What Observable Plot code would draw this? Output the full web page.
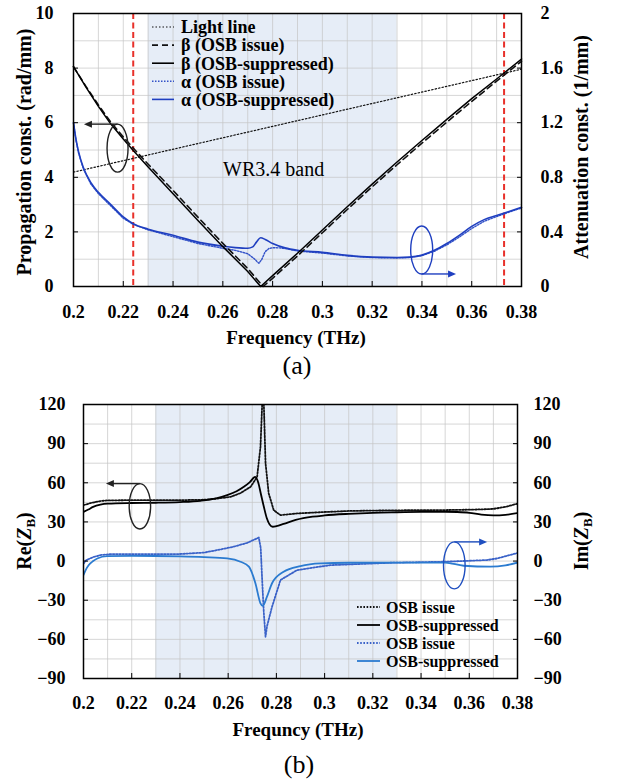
<!DOCTYPE html>
<html><head><meta charset="utf-8">
<script src="https://cdn.jsdelivr.net/npm/d3@7"></script>
<script src="https://cdn.jsdelivr.net/npm/@observablehq/plot@0.6"></script>
<style>
body{margin:0;background:#fff;}
#wrap{position:relative;width:617px;height:784px;overflow:hidden;font-family:"Liberation Serif","Times New Roman",serif;color:#000;}
.abs{position:absolute;white-space:nowrap;line-height:1;transform:translate(-50%,-50%);}
.b{font-weight:bold;}
.rot{transform:translate(-50%,-50%) rotate(-90deg);}
.pa,.pb{position:absolute;left:0;}
sub{font-size:13px;vertical-align:-4px;line-height:0;}
</style></head><body><div id="wrap"></div>
<script>
// ---------- shared ----------
const freqTicks = [0.2,0.22,0.24,0.26,0.28,0.3,0.32,0.34,0.36,0.38];
const gridFreq = [0.21,0.22,0.23,0.24,0.25,0.26,0.27,0.28,0.29,0.3,0.31,0.32,0.33,0.34,0.35,0.36,0.37];
const wrBand = [0.23, 0.33];

// ---------- panel (a) ----------
const propTicks = [0,2,4,6,8,10];
const attTicks = [0,0.4,0.8,1.2,1.6,2];
const gridProp = [1,2,3,4,5,6,7,8,9];
const cutoffFreqs = [0.224, 0.373];
const ATT_TO_PROP = 5; // 2 (1/mm) on right axis == 10 (rad/mm) on left axis

const lightF = [0.2, 0.38];
const lightV = [4.19, 7.96];

const betaSupF = [0.2,0.205,0.21,0.215,0.22,0.224,0.23,0.24,0.25,0.26,0.27,0.2752,0.28,0.29,0.30,0.31,0.32,0.33,0.34,0.35,0.36,0.37,0.373,0.38];
const betaSupV = [8.05,7.3,6.6,5.95,5.4,4.98,4.38,3.4,2.42,1.46,0.55,0,0.4,1.22,2.07,2.92,3.75,4.56,5.35,6.12,6.88,7.6,7.82,8.33];

const betaIssF = [0.2,0.205,0.21,0.215,0.22,0.224,0.23,0.24,0.25,0.26,0.27,0.2762,0.28,0.29,0.30,0.31,0.32,0.33,0.34,0.35,0.36,0.37,0.373,0.38];
const betaIssV = [8.05,7.33,6.65,6.02,5.48,5.07,4.48,3.52,2.54,1.58,0.66,0,0.3,1.12,1.97,2.82,3.65,4.46,5.25,6.02,6.78,7.52,7.74,8.25];

const alphaSupF = [0.2,0.201,0.202,0.204,0.207,0.21,0.215,0.22,0.224,0.23,0.24,0.25,0.26,0.265,0.27,0.272,0.2735,0.2752,0.277,0.28,0.285,0.29,0.3,0.31,0.32,0.33,0.335,0.34,0.345,0.35,0.355,0.36,0.365,0.37,0.375,0.38];
const alphaSupV = [1.2,1.08,0.99,0.87,0.76,0.69,0.6,0.51,0.46,0.42,0.375,0.325,0.295,0.285,0.28,0.29,0.325,0.357,0.345,0.315,0.283,0.265,0.25,0.228,0.215,0.212,0.215,0.23,0.265,0.315,0.375,0.44,0.49,0.52,0.55,0.58];

const alphaIssF = [0.2,0.201,0.202,0.204,0.207,0.21,0.215,0.22,0.224,0.23,0.24,0.25,0.26,0.265,0.27,0.2725,0.2745,0.2757,0.277,0.2785,0.28,0.283,0.286,0.29,0.3,0.31,0.32,0.33,0.335,0.34,0.345,0.35,0.355,0.36,0.365,0.37,0.375,0.38];
const alphaIssV = [1.2,1.07,0.98,0.86,0.75,0.68,0.59,0.5,0.455,0.415,0.365,0.315,0.28,0.265,0.24,0.205,0.17,0.2,0.255,0.278,0.284,0.283,0.275,0.26,0.245,0.224,0.212,0.209,0.212,0.226,0.258,0.305,0.362,0.425,0.478,0.512,0.545,0.575];

// ---------- panel (b) ----------
const zTicks = [-90,-60,-30,0,30,60,90,120];
const gridZ = [-75,-60,-45,-30,-15,0,15,30,45,60,75,90,105];

const reSupF = [0.2,0.202,0.204,0.207,0.21,0.22,0.23,0.24,0.2485,0.255,0.2596,0.2635,0.2665,0.269,0.2712,0.2725,0.2735,0.2748,0.276,0.2772,0.2785,0.28,0.283,0.288,0.295,0.3,0.31,0.32,0.33,0.34,0.35,0.355,0.36,0.365,0.37,0.375,0.38];
const reSupV = [37.7,39.5,41.5,43.2,44,44.5,44.7,45.2,46.2,48,50.5,53.5,56.9,60.5,64.5,60,52,41.6,33,28,26.3,26.8,28.5,31.5,34,35,36.2,37,37.4,37.7,37.8,37.6,37,35.6,35,35.4,36.8];

const reIssF = [0.2,0.203,0.207,0.21,0.22,0.24,0.25,0.255,0.261,0.265,0.2693,0.272,0.2734,0.2741,0.2744,0.2748,0.2755,0.2768,0.2789,0.2817,0.2886,0.3,0.31,0.32,0.33,0.34,0.35,0.36,0.365,0.37,0.375,0.38];
const reIssV = [42.8,44.5,46,46.5,46.7,46.7,47,47.8,49.2,52,56.9,64.5,87.5,120,160,120,75,52,39,35.2,36.5,37.6,38.4,38.7,38.9,39,39.1,39.4,39.6,40,41.5,44];

const imSupF = [0.2,0.201,0.2022,0.204,0.2057,0.2098,0.22,0.23,0.24,0.25,0.2596,0.2651,0.2686,0.2713,0.2734,0.2743,0.2761,0.2782,0.283,0.29,0.2983,0.31,0.33,0.35,0.3577,0.3688,0.375,0.38];
const imSupV = [-10.7,-6.5,-3,0,2,3.8,4,3.9,3.6,3,2,-0.5,-4.3,-17,-32.4,-34.4,-27.3,-17,-8.2,-3.8,-1.8,-1.3,-1.2,-1.2,-3.6,-4.3,-3.3,-1.2];

const imIssF = [0.2,0.2012,0.204,0.207,0.212,0.24,0.25,0.2554,0.2623,0.2679,0.2715,0.2727,0.2735,0.2741,0.2748,0.2755,0.2761,0.2782,0.2817,0.2886,0.3024,0.3273,0.35,0.3674,0.3715,0.38];
const imIssV = [-2,0.8,3,4.6,5.4,5.4,6.5,8.4,11,14,17,18.1,10,-14.5,-40,-58,-50,-35,-14.5,-6.9,-3.1,-1.3,-0.5,0.8,2,6.2];

// annotation anchors in data coordinates
const annA = [
  {cf:0.2179, cv:5.05, rx:10.5, ry:24, side:"top", tf:0.2044, color:"#222"},
  {cf:0.3401, cv:1.32, rx:11, ry:24, side:"bottom", tf:0.3539, color:"#1f3fc0"}
];
const annB = [
  {cf:0.2236, cv:41.6, rx:10.7, ry:22.7, side:"top", tf:0.2095, color:"#222"},
  {cf:0.354, cv:-3.7, rx:10.8, ry:23.5, side:"top", tf:0.3676, color:"#1f4fc0"}
];

// ---------- helpers ----------
const rows = (F, V) => F.map((f, i) => ({f, v: V[i]}));
const fmtF = d => String(+d.toFixed(2));
const style = {fontFamily:'"Liberation Serif","Times New Roman",serif', fontSize:"18px", fontWeight:"bold", color:"#000", overflow:"visible", background:"transparent"};
const BLUE_A = "#1f3fc0", BLUE_A_DOT = "#3352c8";
const BLUE_B = "#2b7bd0", BLUE_B_DOT = "#3a62c8";
const GRID = {stroke:"#c4c4c4", strokeOpacity:0.7, strokeWidth:1};

function annotate(plot, list) {
  const sx = plot.scale("x"), sy = plot.scale("y");
  const svg = d3.select(plot);
  for (const a of list) {
    const cx = sx.apply(a.cf), cy = sy.apply(a.cv);
    const g = svg.append("g").attr("fill","none").attr("stroke",a.color).attr("stroke-width",1.4);
    g.append("ellipse").attr("cx",cx).attr("cy",cy).attr("rx",a.rx).attr("ry",a.ry);
    const ay = a.side === "top" ? cy - a.ry : cy + a.ry;
    const x2 = sx.apply(a.tf);
    const dir = Math.sign(x2 - cx);
    g.append("line").attr("x1",cx).attr("y1",ay).attr("x2",x2 - dir*4).attr("y2",ay);
    g.append("path").attr("d",`M${x2},${ay}l${-dir*8},-3.5v7z`).attr("fill",a.color).attr("stroke","none");
  }
}

const wrap = document.getElementById("wrap");

// ---------- plot (a) ----------
const plotA = Plot.plot({
  width:617, height:352, marginTop:13, marginBottom:66, marginLeft:73, marginRight:96,
  style,
  x:{domain:[0.2,0.38]},
  y:{domain:[0,10]},
  marks:[
    Plot.rect([wrBand], {x1:d=>d[0], x2:d=>d[1], fill:"#e6edf7"}),
    Plot.ruleX(gridFreq, GRID),
    Plot.ruleY(gridProp, GRID),
    Plot.ruleX(cutoffFreqs, {stroke:"#e8302a", strokeWidth:2, strokeDasharray:"6,3.5"}),
    Plot.text(["WR3.4 band"], {x:0.2601, y:4.3, text:d=>d, textAnchor:"start", fontSize:20, fontWeight:"normal"}),
    Plot.line(rows(lightF, lightV), {x:"f", y:"v", stroke:"#111", strokeWidth:1.2, strokeDasharray:"1.5,2"}),
    Plot.line(rows(alphaIssF, alphaIssV), {x:"f", y:d=>d.v*ATT_TO_PROP, stroke:BLUE_A_DOT, strokeWidth:1.4, strokeDasharray:"1.5,1.5"}),
    Plot.line(rows(alphaSupF, alphaSupV), {x:"f", y:d=>d.v*ATT_TO_PROP, stroke:BLUE_A, strokeWidth:1.6, curve:"monotone-x"}),
    Plot.line(rows(betaIssF, betaIssV), {x:"f", y:"v", stroke:"#111", strokeWidth:1.6, strokeDasharray:"6,4"}),
    Plot.line(rows(betaSupF, betaSupV), {x:"f", y:"v", stroke:"#000", strokeWidth:1.5}),
    Plot.frame({stroke:"#000", strokeWidth:1.5}),
    Plot.axisX({ticks:freqTicks, tickFormat:fmtF, tickSize:-5, tickPadding:24, label:null}),
    Plot.axisY({ticks:propTicks, anchor:"left", tickSize:-5, tickPadding:25, label:null}),
    Plot.axisY({ticks:attTicks.map(v=>v*ATT_TO_PROP), anchor:"right", tickSize:-5, tickPadding:24, label:null,
      tickFormat:d=>String(attTicks[propTicks.indexOf(d)])})
  ]
});
plotA.classList.add("pa"); plotA.style.top = "0px";
wrap.appendChild(plotA);
annotate(plotA, annA);

// ---------- plot (b) ----------
const plotB = Plot.plot({
  width:617, height:330, marginTop:16, marginBottom:40, marginLeft:83, marginRight:100,
  style,
  x:{domain:[0.2,0.38]},
  y:{domain:[-90,120]},
  marks:[
    Plot.rect([wrBand], {x1:d=>d[0], x2:d=>d[1], fill:"#e6edf7"}),
    Plot.ruleX(gridFreq, GRID),
    Plot.ruleY(gridZ, GRID),
    Plot.line(rows(reIssF, reIssV), {x:"f", y:"v", stroke:"#111", strokeWidth:1.8, strokeDasharray:"1.6,1.6", clip:true}),
    Plot.line(rows(reSupF, reSupV), {x:"f", y:"v", stroke:"#000", strokeWidth:1.8, curve:"monotone-x", clip:true}),
    Plot.line(rows(imIssF, imIssV), {x:"f", y:"v", stroke:BLUE_B_DOT, strokeWidth:1.8, strokeDasharray:"1.6,1.6", clip:true}),
    Plot.line(rows(imSupF, imSupV), {x:"f", y:"v", stroke:BLUE_B, strokeWidth:1.8, curve:"monotone-x", clip:true}),
    Plot.frame({stroke:"#000", strokeWidth:1.5}),
    Plot.axisX({ticks:freqTicks, tickFormat:fmtF, tickSize:-5, tickPadding:23, label:null}),
    Plot.axisY({ticks:zTicks, anchor:"left", tickSize:-5, tickPadding:23, label:null}),
    Plot.axisY({ticks:zTicks, anchor:"right", tickSize:-5, tickPadding:21, label:null})
  ]
});
plotB.classList.add("pb"); plotB.style.top = "388px";
wrap.appendChild(plotB);
annotate(plotB, annB);

// ---------- legends ----------
const legA = [
  {label:"Light line", stroke:"#111", dash:"1.5,2", w:1.2},
  {label:"β (OSB issue)", stroke:"#111", dash:"6,4", w:1.6},
  {label:"β (OSB-suppressed)", stroke:"#000", dash:null, w:1.6},
  {label:"α (OSB issue)", stroke:BLUE_A_DOT, dash:"1.5,1.5", w:1.4},
  {label:"α (OSB-suppressed)", stroke:BLUE_A, dash:null, w:1.6}
];
const legB = [
  {label:"OSB issue", stroke:"#111", dash:"1.6,1.6", w:1.8},
  {label:"OSB-suppressed", stroke:"#000", dash:null, w:1.8},
  {label:"OSB issue", stroke:BLUE_B_DOT, dash:"1.6,1.6", w:1.8},
  {label:"OSB-suppressed", stroke:BLUE_B, dash:null, w:1.8}
];
function legend(items, {x1, x2, tx, y0, dy, fs}) {
  const svg = d3.select(wrap).append("svg").attr("width",617).attr("height",784)
    .style("position","absolute").style("left","0").style("top","0").style("pointer-events","none");
  items.forEach((it, i) => {
    const y = y0 + i*dy;
    const l = svg.append("line").attr("x1",x1).attr("x2",x2).attr("y1",y).attr("y2",y)
      .attr("stroke",it.stroke).attr("stroke-width",it.w);
    if (it.dash) l.attr("stroke-dasharray",it.dash);
    svg.append("text").attr("x",tx).attr("y",y).attr("dy","0.35em").text(it.label)
      .attr("font-family",'"Liberation Serif","Times New Roman",serif').attr("font-weight","bold").attr("font-size",fs);
  });
}
legend(legA, {x1:152, x2:174, tx:181, y0:27, dy:18.1, fs:18});
legend(legB, {x1:357, x2:380, tx:386, y0:607, dy:18, fs:16});

// ---------- titles ----------
function label(html, cx, cy, cls, fs) {
  const d = document.createElement("div");
  d.className = "abs " + cls;
  d.style.left = cx + "px"; d.style.top = cy + "px"; d.style.fontSize = fs + "px";
  d.innerHTML = html;
  wrap.appendChild(d);
}
label("Propagation const. (rad/mm)", 24, 152, "b rot", 20);
label("Attenuation const. (1/mm)", 581, 147, "b rot", 20);
label("Frequency (THz)", 296, 337, "b", 19);
label("(a)", 297, 366, "", 26);
label("Re(<i>Z</i><sub>B</sub>)", 24, 541, "b rot", 20);
label("Im(<i>Z</i><sub>B</sub>)", 581, 541, "b rot", 20);
label("Frequncy (THz)", 298, 729, "b", 19);
label("(b)", 299, 765, "", 26);
</script>
</body></html>
